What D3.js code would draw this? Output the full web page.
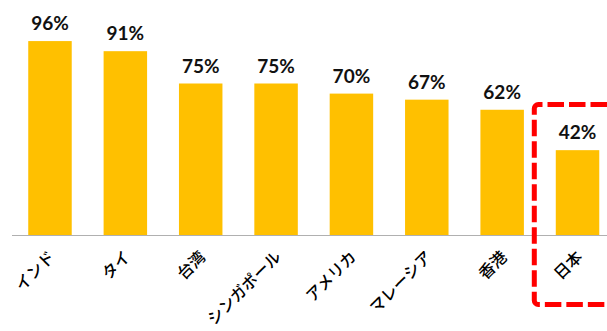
<!DOCTYPE html>
<html>
<head>
<meta charset="utf-8">
<script src="https://cdn.jsdelivr.net/npm/d3@7"></script>
<style>
  html, body { margin: 0; padding: 0; background: #fff; }
  svg { display: block; }
</style>
</head>
<body>
<svg id="chart" width="607" height="331"></svg>
<script>
// Share by country (%)
const countries = ["インド", "タイ", "台湾", "シンガポール", "アメリカ", "マレーシア", "香港", "日本"];
const shares = [96, 91, 75, 75, 70, 67, 62, 42];
const highlighted = ["日本"];

const W = 607, H = 331;
const svg = d3.select("#chart");

const x = d3.scaleBand()
  .domain(countries)
  .range([12.3, 615.2])
  .paddingInner(0.423)
  .paddingOuter(0.2115);

const y = d3.scaleLinear()
  .domain([0, 100])
  .range([235, 33]);

// bars
svg.append("g")
  .selectAll("rect")
  .data(countries)
  .join("rect")
  .attr("x", d => x(d))
  .attr("y", (d, i) => y(shares[i]))
  .attr("width", x.bandwidth())
  .attr("height", (d, i) => y(0) - y(shares[i]))
  .attr("fill", "#FFC000");

// category axis
const xAxis = svg.append("g")
  .attr("transform", `translate(0,${y(0)})`)
  .call(d3.axisBottom(x).tickSize(0).tickSizeOuter(0).tickPadding(0));
xAxis.select(".domain")
  .attr("stroke", "#b0b0b0")
  .attr("stroke-width", 1)
  .attr("d", `M12,0.5H${W}`);
xAxis.selectAll(".tick text")
  .attr("transform", "translate(2,19) rotate(-45)")
  .attr("text-anchor", "end")
  .attr("dy", "0.35em")
  .attr("y", 0)
  .attr("x", 0)
  .attr("font-family", "'Noto Sans CJK JP', sans-serif")
  .attr("font-weight", 500)
  .attr("font-size", 16)
  .attr("fill", "#000");

// value labels
svg.append("g")
  .selectAll("text")
  .data(countries)
  .join("text")
  .attr("x", d => x(d) + x.bandwidth() / 2)
  .attr("y", (d, i) => y(shares[i]) - 11)
  .attr("text-anchor", "middle")
  .attr("font-family", "Lato, sans-serif")
  .attr("font-weight", 700)
  .attr("font-size", 19)
  .attr("fill", "#111")
  .text((d, i) => shares[i] + "%");

// dashed highlight frame around Japan (open to the right edge)
highlighted.forEach(c => {
  const left = x(c) - x.step() * 0.285;
  const top = y(0) - 130.5;
  const bottom = y(0) + 69.5;
  const r = 4;
  const p = d3.path();
  p.moveTo(W + 33, top);
  p.lineTo(left + r, top);
  p.arcTo(left, top, left, top + r, r);
  p.lineTo(left, bottom - r);
  p.arcTo(left, bottom, left + r, bottom, r);
  p.lineTo(W + 33, bottom);
  svg.append("path")
    .attr("d", p.toString())
    .attr("fill", "none")
    .attr("stroke", "#FF0000")
    .attr("stroke-width", 5)
    .attr("stroke-dasharray", "16.5 5")
    .attr("stroke-dashoffset", 10);
});
</script>
</body>
</html>
